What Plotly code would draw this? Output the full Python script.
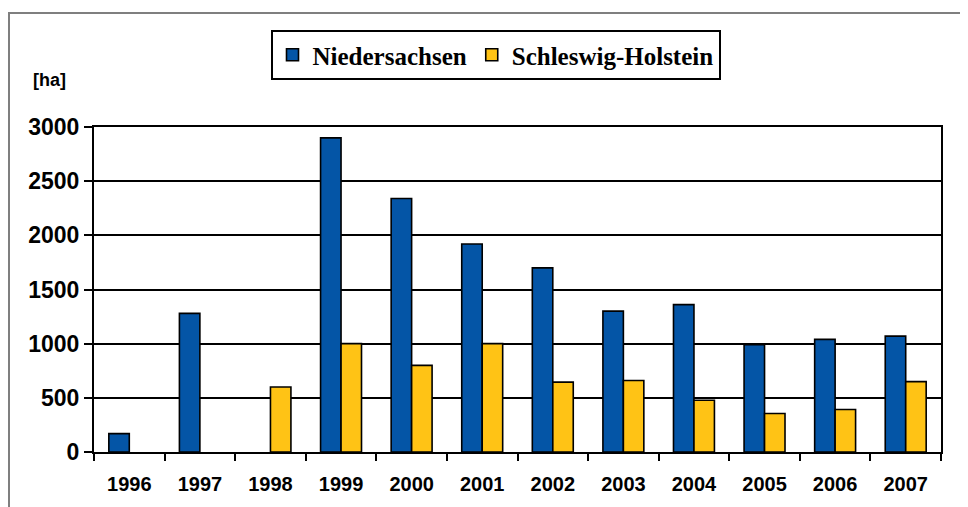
import plotly.graph_objects as go

years = ["1996", "1997", "1998", "1999", "2000", "2001", "2002", "2003", "2004", "2005", "2006", "2007"]
niedersachsen = [170, 1280, None, 2900, 2340, 1920, 1700, 1300, 1360, 990, 1040, 1070]
schleswig_holstein = [None, None, 600, 1000, 800, 1000, 645, 660, 478, 355, 392, 650]
y_ticks = [0, 500, 1000, 1500, 2000, 2500, 3000]

W, H = 968, 507
OFF = 8  # page body margin
L, R, T, B = 94 - OFF, 941 - OFF, 127 - OFF, 452 - OFF

fig = go.Figure()
fig.add_trace(go.Bar(
    x=years, y=niedersachsen, name="Niedersachsen",
    marker=dict(color="#0455A6", line=dict(color="#000000", width=1.6)),
))
fig.add_trace(go.Bar(
    x=years, y=schleswig_holstein, name="Schleswig-Holstein",
    marker=dict(color="#FFC315", line=dict(color="#000000", width=1.6)),
))

pw, ph = R - L, B - T
def px_x(x):
    return (x - OFF - L) / pw
def px_y(y):
    return (B - (y - OFF)) / ph

fig.update_layout(
    width=W, height=H,
    margin=dict(l=L, r=W - R, t=T, b=H - B, pad=0),
    paper_bgcolor="white", plot_bgcolor="white",
    barmode="group", bargap=0.42, bargroupgap=0,
    showlegend=True,
    legend=dict(
        orientation="h",
        x=px_x(495.5), xanchor="center",
        y=px_y(55), yanchor="middle",
        bordercolor="#000000", borderwidth=2,
        bgcolor="white",
        font=dict(family="Liberation Serif", size=25, color="#000000", weight="bold"),
        itemwidth=30,
        traceorder="normal",
    ),
    xaxis=dict(
        type="category",
        showline=True, linecolor="#000000", linewidth=2, mirror=True,
        ticks="outside", ticklen=7, tickwidth=2, tickcolor="#000000",
        tickson="boundaries",
        showgrid=False,
        ticklabelstandoff=13,
        tickfont=dict(family="Liberation Sans", size=20, color="#000000", weight="bold"),
    ),
    yaxis=dict(
        range=[0, 3000],
        tickvals=y_ticks,
        showline=True, linecolor="#000000", linewidth=2, mirror=True,
        ticks="outside", ticklen=8, tickwidth=1.5, tickcolor="#000000",
        showgrid=True, gridcolor="#000000", gridwidth=2,
        zeroline=False,
        tickfont=dict(family="Liberation Sans", size=23, color="#000000", weight="bold"),
    ),
    annotations=[dict(
        text="[ha]", xref="paper", yref="paper",
        x=px_x(49), y=px_y(80), xanchor="center", yanchor="middle",
        showarrow=False,
        font=dict(family="Liberation Sans", size=18, color="#000000", weight="bold"),
    )],
    shapes=[dict(
        type="rect", xref="paper", yref="paper",
        x0=px_x(9), y0=px_y(560), x1=px_x(1010), y1=px_y(13),
        line=dict(color="#7f7f7f", width=2), fillcolor="rgba(0,0,0,0)",
        layer="below",
    )],
)

fig.write_html("out.html")
